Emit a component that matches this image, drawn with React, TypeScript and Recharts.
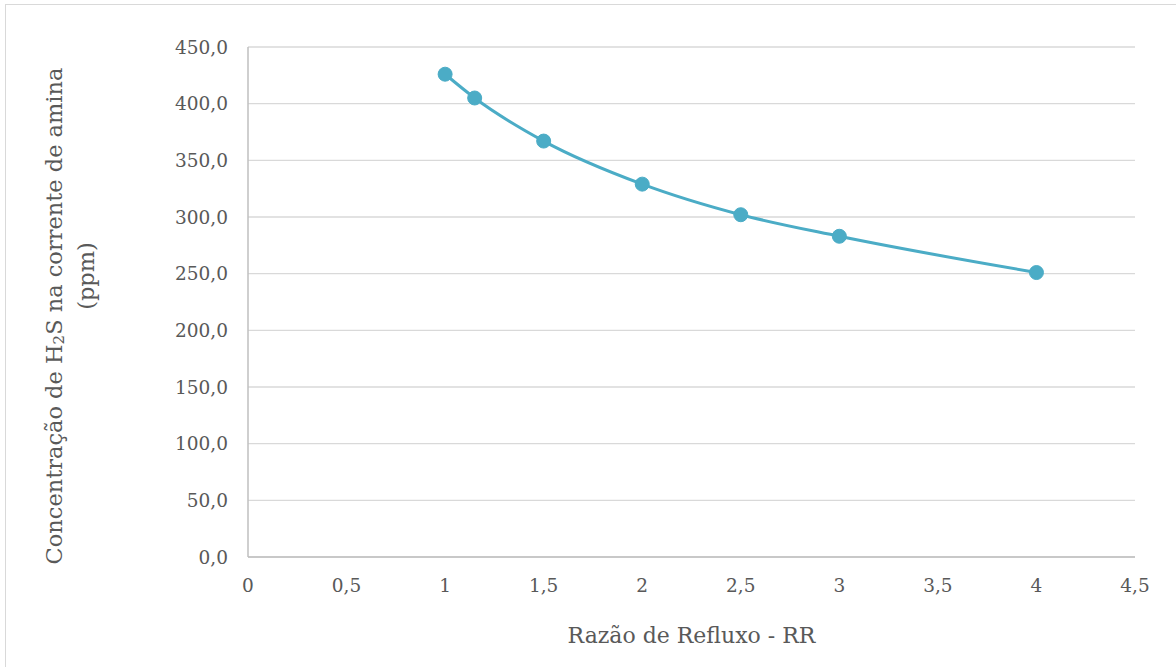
import { LineChart, Line, XAxis, YAxis, CartesianGrid } from "recharts";

// Razão de refluxo (RR) x concentração de H2S (ppm)
const refluxRatio = [1, 1.15, 1.5, 2, 2.5, 3, 4];
const h2sPpm = [426, 405, 367, 329, 302, 283, 251];

const xTicks = [0, 0.5, 1, 1.5, 2, 2.5, 3, 3.5, 4, 4.5];
const yTicks = [0, 50, 100, 150, 200, 250, 300, 350, 400, 450];

const data = refluxRatio.map((rr, i) => ({ rr, ppm: h2sPpm[i] }));

// no Times here, DejaVu Serif is the only serif face available
const FONT = "'DejaVu Serif', serif";
const TEXT = "#595959";
const LINE = "#4bacc6";

const fmtX = (v: number) => String(v).replace(".", ",");
const fmtY = (v: number) => v.toFixed(1).replace(".", ",");

// eslint-disable-next-line @typescript-eslint/no-explicit-any
const YTitle = ({ viewBox }: any) => {
  const top = viewBox.y;
  const x1 = 54;
  const x2 = 86;
  const c1 = top + 269;
  const c2 = top + 229;
  return (
    <g fill={TEXT} style={{ fontFamily: FONT, fontSize: 22.5 }}>
      <text x={x1} y={c1} transform={`rotate(-90 ${x1} ${c1})`} textAnchor="middle" dominantBaseline="central">
        Concentração de H<tspan style={{ fontSize: 15 }} dy={5}>2</tspan><tspan dy={-5}>S na corrente de amina</tspan>
      </text>
      <text x={x2} y={c2} transform={`rotate(-90 ${x2} ${c2})`} textAnchor="middle" dominantBaseline="central">
        (ppm)
      </text>
    </g>
  );
};

// eslint-disable-next-line @typescript-eslint/no-explicit-any
const XTitle = ({ viewBox }: any) => (
  <text
    x={viewBox.x + viewBox.width / 2}
    y={635}
    textAnchor="middle"
    dominantBaseline="central"
    fill={TEXT}
    style={{ fontFamily: FONT, fontSize: 22 }}
  >
    Razão de Refluxo - RR
  </text>
);

export default function App() {
  return (
    <div style={{ position: "absolute", left: 0, top: 0, width: 1176, height: 667, overflow: "hidden", background: "#fff" }}>
      <div style={{
        position: "absolute", left: 5, top: 4, width: 1200, height: 700,
        borderLeft: "1px solid #d9d9d9", borderTop: "1px solid #d9d9d9",
      }} />
      <div style={{ position: "absolute", left: 0, top: 0 }}>
        <LineChart width={1176} height={667} data={data} margin={{ top: 47, right: 41, bottom: 50, left: 0 }}>
          <CartesianGrid vertical={false} stroke="#d9d9d9" strokeWidth={1.3} />
          <XAxis
            dataKey="rr"
            type="number"
            domain={[0, 4.5]}
            ticks={xTicks}
            tickFormatter={fmtX}
            height={60}
            tickLine={false}
            tickSize={0}
            tickMargin={22}
            axisLine={{ stroke: "#bfbfbf", strokeWidth: 1.5 }}
            tick={{ fill: TEXT, fontSize: 18.5, style: { fontFamily: FONT } }}
            label={<XTitle />}
          />
          <YAxis
            type="number"
            domain={[0, 450]}
            ticks={yTicks}
            tickFormatter={fmtY}
            width={248}
            tickLine={false}
            tickSize={0}
            tickMargin={20}
            axisLine={{ stroke: "#bfbfbf", strokeWidth: 1.5 }}
            tick={{ fill: TEXT, fontSize: 18.5, style: { fontFamily: FONT } }}
            label={<YTitle />}
          />
          <Line
            type="monotone"
            dataKey="ppm"
            stroke={LINE}
            strokeWidth={3}
            dot={{ r: 7, fill: LINE, stroke: LINE, strokeWidth: 1 }}
            isAnimationActive={false}
          />
        </LineChart>
      </div>
    </div>
  );
}
